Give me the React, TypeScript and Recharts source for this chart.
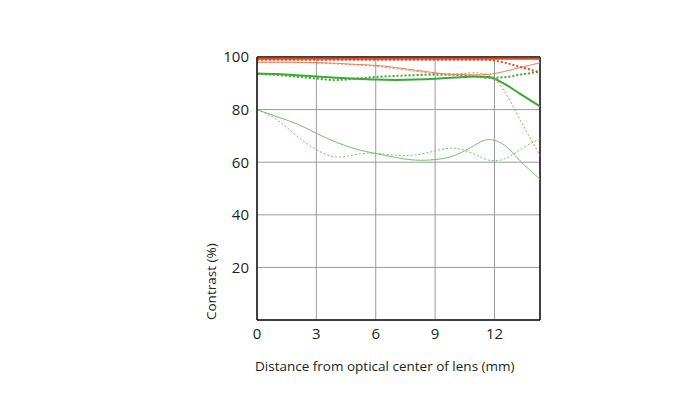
import {
    LineChart,
    Line,
    XAxis,
    YAxis,
    CartesianGrid,
    ReferenceLine,
} from 'recharts';

// distance from optical center (mm)
const distances = [0, 1, 2, 3, 4, 5, 6, 7, 8, 9, 10, 11, 11.7, 12.5, 13.3, 14.3];

// 10 lp/mm (red), 30 lp/mm (green); solid = sagittal, dotted = meridional
const red10Sag = [99.3, 99.3, 99.3, 99.3, 99.3, 99.3, 99.3, 99.3, 99.3, 99.3, 99.3, 99.3, 99.3, 99.3, 99.3, 99.3];
const red10Mer = [99, 99, 99, 99, 99, 99, 99, 99, 99, 99, 99, 99, 98.9, 97.9, 96.2, 94.2];
const redThinSag = [98, 98, 98, 97.9, 97.6, 97.2, 96.8, 96, 95, 94, 93.3, 93.2, 93.4, 94.5, 96, 97.8];
const redThinMer = [98, 98, 97.9, 97.7, 97.4, 97, 96.5, 95.6, 94.6, 93.7, 93.6, 94, 93.2, 87, 76, 62.5];
const greenSag = [93.7, 93.5, 93.1, 92.6, 92.1, 91.7, 91.4, 91.3, 91.4, 91.7, 92.2, 92.6, 92.4, 89.8, 86, 81.2];
const greenMer = [93.6, 93.2, 92.5, 91.8, 91.2, 91.8, 92.4, 92.8, 93.1, 93.3, 93.2, 92.6, 92.1, 92.3, 93.3, 94.4];
const greenThinSag = [80, 77.3, 74.6, 71, 67.6, 65, 63.3, 61.8, 60.8, 61, 62.6, 66.5, 68.6, 66.5, 60.5, 53.5];
const greenThinMer = [80, 76.2, 70, 64.8, 62, 62.9, 63.4, 62.6, 62.8, 64.3, 65.3, 63, 60.8, 61.2, 64.8, 69];

const xTicks = [0, 3, 6, 9, 12];
const yTicks = [20, 40, 60, 80, 100];

const data = distances.map((d, i) => ({
    d,
    red10Sag: red10Sag[i],
    red10Mer: red10Mer[i],
    redThinSag: redThinSag[i],
    redThinMer: redThinMer[i],
    greenSag: greenSag[i],
    greenMer: greenMer[i],
    greenThinSag: greenThinSag[i],
    greenThinMer: greenThinMer[i],
}));

const RED = '#e8471f';
const RED_THIN = '#f07d5c';
const GREEN = '#3aa935';
const GREEN_THIN = '#72c16d';
const FONT = '"Open Sans", sans-serif';

export default function App() {
    return (
        <div style={{ position: 'absolute', left: 0, top: 0 }}>
            <LineChart
                width={700}
                height={393}
                data={data}
                margin={{ top: 57, right: 160, bottom: 13, left: 212 }}
            >
                <CartesianGrid stroke="#9a9a9a" strokeWidth={1} />
                <XAxis
                    dataKey="d"
                    type="number"
                    domain={[0, 14.3]}
                    ticks={xTicks}
                    height={60}
                    tickLine={false}
                    axisLine={{ stroke: '#111', strokeWidth: 1.5 }}
                    tick={{ fill: '#231f20', fontSize: 15, fontFamily: FONT }}
                />
                <YAxis
                    type="number"
                    domain={[0, 100]}
                    ticks={yTicks}
                    width={45}
                    tickLine={false}
                    axisLine={{ stroke: '#111', strokeWidth: 1.5 }}
                    tick={{ fill: '#231f20', fontSize: 15, fontFamily: FONT }}
                />
                <ReferenceLine y={100} stroke="#111" strokeWidth={1.5} />
                <ReferenceLine x={14.3} stroke="#111" strokeWidth={1.5} />
                <Line type="natural" dataKey="greenThinMer" stroke={GREEN_THIN} strokeWidth={1} strokeDasharray="2 2" dot={false} isAnimationActive={false} />
                <Line type="natural" dataKey="greenThinSag" stroke={GREEN_THIN} strokeWidth={1} dot={false} isAnimationActive={false} />
                <Line type="monotone" dataKey="greenMer" stroke={GREEN} strokeWidth={2} strokeDasharray="2 2" dot={false} isAnimationActive={false} />
                <Line type="monotone" dataKey="greenSag" stroke={GREEN} strokeWidth={2} dot={false} isAnimationActive={false} />
                <Line type="monotone" dataKey="redThinMer" stroke={RED_THIN} strokeWidth={1} strokeDasharray="2 2" dot={false} isAnimationActive={false} />
                <Line type="monotone" dataKey="redThinSag" stroke={RED_THIN} strokeWidth={1} dot={false} isAnimationActive={false} />
                <Line type="monotone" dataKey="red10Mer" stroke={RED} strokeWidth={2} strokeDasharray="2 2" dot={false} isAnimationActive={false} />
                <Line type="monotone" dataKey="red10Sag" stroke={RED} strokeWidth={2} dot={false} isAnimationActive={false} />
                <text x={255} y={371} fontSize={13.5} fontFamily={FONT} fill="#231f20">
                    Distance from optical center of lens (mm)
                </text>
                <text x={216} y={320} fontSize={13.5} fontFamily={FONT} fill="#231f20" transform="rotate(-90 216 320)">
                    Contrast (%)
                </text>
            </LineChart>
        </div>
    );
}
